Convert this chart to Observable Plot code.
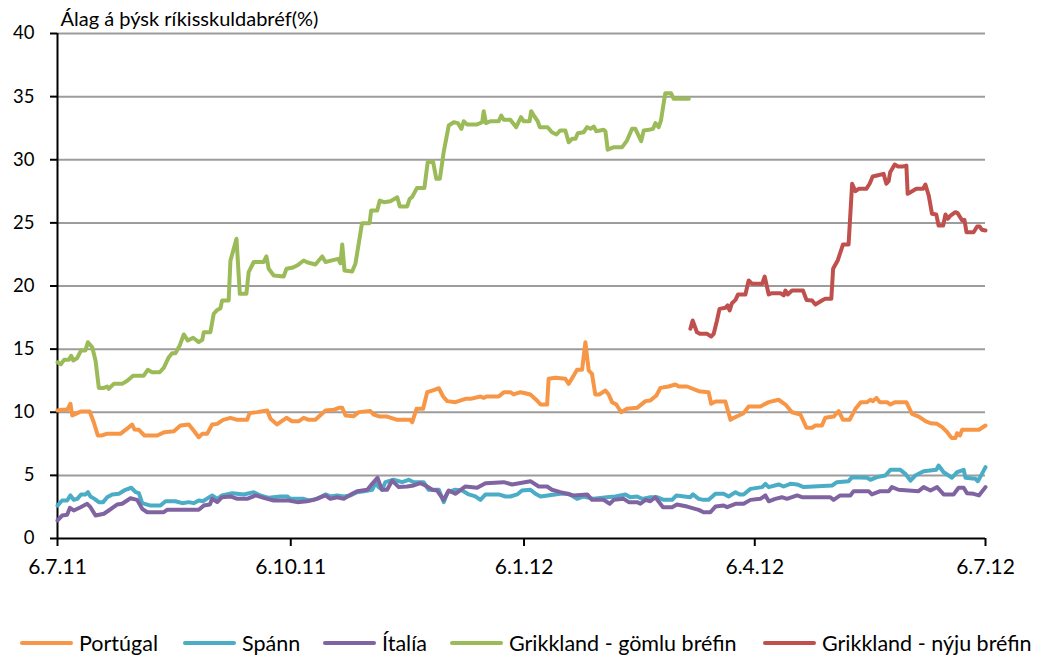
<!DOCTYPE html>
<html>
<head>
<meta charset="utf-8">
<script src="https://cdn.jsdelivr.net/npm/d3@7"></script>
<script src="https://cdn.jsdelivr.net/npm/@observablehq/plot@0.6"></script>
<style>
  html, body { margin: 0; padding: 0; background: #fff; }
  body { position: relative; width: 1041px; height: 658px; overflow: hidden; font-family: Lato, "Open Sans", sans-serif; }
  #legend { position: absolute; top: 629px; left: 0; width: 1041px; height: 28px; font-size: 21.5px; color: #000; }
  .item { position: absolute; top: 0; display: flex; align-items: center; height: 28px; white-space: nowrap; }
  .sw { display: inline-block; width: 53px; height: 4px; margin-right: 6px; border-radius: 2px; }
</style>
</head>
<body>
<div id="chart"></div>
<div id="legend"></div>
<script>
// ---- data (x = days after 6 July 2011, y = spread in %) ----
const startDate = "2011-07-06";
const endDate = "2012-07-06";
const seriesNames = ["Portúgal", "Spánn", "Ítalía", "Grikkland - gömlu bréfin", "Grikkland - nýju bréfin"];
const seriesColors = ["#F79646", "#4BACC6", "#8064A2", "#9BBB59", "#C0504D"];
const titleText = "Álag á þýsk ríkisskuldabréf(%)";
const yTicks = [0, 5, 10, 15, 20, 25, 30, 35, 40];
const xTickDates = ["2011-07-06", "2011-10-06", "2012-01-06", "2012-04-06", "2012-07-06"];
const xTickLabels = ["6.7.11", "6.10.11", "6.1.12", "6.4.12", "6.7.12"];

const portugal = [[0,10.14],[1.2,10.19],[3.8,10.19],[5.1,10.67],[5.8,9.74],[7.8,9.93],[9.1,10.06],[12.7,10.06],[14.3,9.21],[15.9,8.16],[17.6,8.16],[19.3,8.29],[24.8,8.29],[27.7,8.74],[29.4,9.03],[30.4,8.63],[32.1,8.61],[34.3,8.16],[39.3,8.16],[42.2,8.42],[45.9,8.5],[48.5,8.95],[51.8,9.03],[53.7,8.55],[55.7,8.02],[57.1,8.29],[59,8.29],[61,9.03],[63,9.08],[65.3,9.4],[68.2,9.56],[70.9,9.4],[74.8,9.4],[75.8,9.93],[78.7,10.01],[82.7,10.14],[84,9.48],[86.6,9.03],[90.3,9.56],[92.5,9.29],[95.2,9.29],[97.1,9.56],[99.1,9.4],[101.7,9.4],[105.7,10.14],[109,10.19],[110.9,10.35],[112.3,10.35],[113.6,9.74],[116.8,9.69],[118.8,10.01],[123.4,10.09],[124.7,9.82],[127.1,9.66],[130,9.66],[134,9.4],[139.2,9.4],[139.9,9.21],[141.6,10.27],[144.2,10.27],[145.8,11.59],[147.8,11.72],[150.4,11.9],[152.1,11.25],[153.7,10.88],[156.9,10.8],[160.9,11.06],[162.9,11.06],[166.8,11.25],[168.1,11.14],[169.2,11.25],[174,11.25],[176,11.59],[178.6,11.59],[179.9,11.41],[182.6,11.59],[184.5,11.51],[186.5,11.41],[189.1,10.93],[190.5,10.61],[193.1,10.61],[193.7,12.65],[196.4,12.73],[200.3,12.65],[201.6,12.25],[203.6,12.91],[204.9,13.36],[206.9,13.36],[208.2,15.55],[209.5,13.31],[210.8,13.04],[212.1,11.41],[213.8,11.41],[216.1,11.72],[217.4,11.41],[218.7,10.8],[220.4,10.61],[222.3,10.0],[224.6,10.27],[228.6,10.35],[231.9,10.88],[233.8,10.93],[236.2,11.33],[237.8,11.93],[241,12.04],[243.7,12.2],[245,12.04],[248.3,12.04],[252.9,11.67],[256.8,11.59],[257.8,10.67],[259.5,10.85],[263.4,10.85],[265.4,9.4],[266.7,9.56],[268.7,9.74],[270.6,9.93],[272.6,10.46],[277.2,10.46],[280.5,10.8],[284.4,10.99],[287.1,10.61],[289.7,10.0],[293,9.82],[295.4,8.77],[297.6,8.77],[298.9,8.95],[301.5,8.95],[302.8,9.56],[306.1,9.66],[308.1,10.08],[309.8,9.4],[312.4,9.4],[314.7,10.27],[316.9,10.8],[319.3,10.8],[320.6,10.99],[321.6,10.88],[323,11.14],[324.3,10.8],[327.2,10.8],[328.5,10.61],[330.4,10.8],[334.8,10.8],[337,9.87],[339.7,9.66],[342.3,9.29],[344.3,9.13],[346.9,9.08],[348.9,8.82],[350.9,8.42],[352.6,7.97],[354.2,7.97],[354.8,8.34],[355.9,8.16],[356.8,8.61],[363.4,8.61],[366,8.95]];

const spain = [[0,2.61],[1.8,3.01],[3.8,3.01],[5.1,3.41],[6.4,3.06],[7.8,3.14],[9.3,3.49],[11,3.49],[12,3.67],[13,3.33],[14.6,3.14],[16.3,2.88],[18,2.88],[19.6,3.27],[21.6,3.49],[24.2,3.54],[26.8,3.86],[29.1,4.02],[30.8,3.67],[32.1,3.59],[33.4,2.8],[36.7,2.61],[40.6,2.61],[42.6,2.95],[46.5,2.95],[49.2,2.8],[51.8,2.88],[53.7,2.8],[55.7,3.01],[57.4,2.95],[58.8,3.14],[61,3.41],[63,3.14],[64.9,3.41],[68.9,3.59],[73.5,3.49],[77.4,3.67],[80,3.41],[83.3,3.22],[87.9,3.33],[90.6,3.33],[91.9,3.14],[97.1,3.14],[99.1,3.01],[102.4,3.14],[105.7,3.49],[107.6,3.33],[110.3,3.41],[112.9,3.33],[115.5,3.41],[118.2,3.67],[120.8,3.75],[124.1,3.86],[125.4,4.38],[126.7,4.07],[128,3.86],[129.3,4.46],[132.6,4.65],[135.9,4.46],[138.5,4.65],[140.5,4.46],[144.4,4.46],[146.4,3.86],[150.4,3.86],[152.3,2.88],[153.9,3.67],[156.9,3.86],[159.6,3.8],[162.2,3.49],[164.8,3.33],[166.8,3.06],[168.8,3.49],[174,3.49],[176.7,3.33],[178.6,3.33],[181.3,3.49],[183.2,3.8],[186.5,3.86],[188.5,3.54],[190.5,3.33],[198.3,3.54],[201.6,3.54],[204.9,3.14],[207.5,3.33],[211.5,3.14],[216.7,3.27],[220,3.33],[224,3.49],[225.9,3.27],[228.6,3.33],[230.6,3.14],[233.8,3.27],[236.4,3.27],[239.1,3.06],[242.4,3.06],[244.1,3.41],[249.6,3.27],[250.6,3.49],[252.9,3.14],[254.8,3.06],[256.8,3.06],[259.5,3.54],[262.7,3.54],[264.7,3.33],[267.4,3.67],[269.1,3.49],[270.6,3.49],[273.3,3.93],[277.9,4.07],[279.2,4.33],[280.5,4.07],[284.4,4.28],[286.4,4.12],[289,4.33],[291.7,4.28],[294.3,4.07],[305.5,4.2],[307.4,4.46],[312,4.54],[313.4,4.86],[319.3,4.81],[320.6,4.65],[323.2,4.86],[326.5,4.99],[328.5,5.44],[332.4,5.44],[334.4,5.12],[336.4,4.59],[338.3,4.99],[341.6,5.33],[346.6,5.44],[347.5,5.78],[349.5,5.25],[352.8,4.81],[354.8,5.25],[357.4,5.44],[358.1,4.81],[362,4.73],[363,4.54],[364.6,5.12],[366,5.65]];

const italy = [[0,1.43],[1.8,1.82],[3.8,1.88],[4.9,2.43],[6.4,2.22],[9.1,2.48],[11.7,2.75],[13,2.48],[15,1.82],[18.3,1.96],[20.2,2.22],[23.5,2.69],[25.5,2.75],[28.8,3.19],[31.4,3.06],[33.4,2.35],[35.4,2.08],[41.9,2.08],[43.2,2.27],[55.7,2.27],[57.7,2.61],[60.1,2.69],[61,3.14],[63,2.88],[64.9,3.27],[68.2,3.33],[70.9,3.14],[74.8,3.14],[78.1,3.41],[81.3,3.22],[85.3,3.01],[91.2,3.01],[94.5,2.88],[98.4,2.95],[101.1,3.06],[105.7,3.41],[107.6,3.14],[110.3,3.27],[112.9,3.14],[116.2,3.54],[118.2,3.75],[122.2,3.86],[124.1,4.33],[126.2,4.81],[127.1,4.33],[128,3.86],[130,3.86],[132,4.59],[134.6,4.07],[137.9,4.12],[140.5,4.2],[143.1,4.38],[145.1,4.2],[147.8,3.86],[149.7,3.8],[152.3,3.06],[154.3,3.8],[156.9,3.54],[160.9,4.12],[165.5,4.02],[168.8,4.38],[176,4.46],[179.3,4.28],[186.5,4.54],[189.8,4.12],[193.1,4.12],[195,3.86],[198.3,3.67],[200.9,3.54],[203.6,3.41],[208.9,3.49],[210.8,3.06],[215.4,3.06],[217.8,2.75],[219.4,3.06],[223.3,3.14],[225.3,2.88],[228.6,2.88],[229.9,2.75],[231.9,3.06],[233.8,2.95],[235.8,3.27],[238.8,2.48],[242.4,2.48],[244.3,2.69],[248.3,2.53],[252.9,2.27],[254.8,2.08],[257.5,2.08],[259.5,2.53],[262.7,2.61],[264.1,2.48],[267.4,2.75],[270.6,2.75],[273.3,3.06],[277.2,3.14],[279.2,3.41],[280.5,2.95],[283.1,3.14],[285.7,3.27],[287.7,3.14],[291.7,3.41],[293.6,3.27],[304.8,3.27],[306.1,3.06],[308.7,3.41],[312.7,3.41],[314,3.75],[319.9,3.75],[321.2,3.49],[324.5,3.75],[327.8,3.75],[329.1,4.07],[331.7,3.86],[339.6,3.75],[341.6,4.07],[344.3,3.8],[346.9,4.07],[349.5,3.49],[353.4,3.49],[355.4,4.02],[357.4,4.02],[358.7,3.59],[361.3,3.54],[363.4,3.41],[366,4.07]];

const greeceOld = [[0,13.96],[1.3,13.8],[2.6,14.15],[4.5,14.15],[5.4,14.47],[6.2,14.1],[7.8,14.3],[9.3,14.9],[11,14.9],[12,15.55],[13.7,15.15],[15,14.1],[16.3,11.93],[18.3,11.93],[19.6,12.04],[20.2,11.86],[22.2,12.25],[25.5,12.25],[27.5,12.5],[29.8,12.9],[34,12.9],[35.6,13.36],[37.3,13.17],[40.3,13.17],[41.9,13.52],[43.9,14.36],[45.2,14.68],[46.5,14.68],[48.2,15.29],[49.8,16.16],[51.4,15.68],[53.5,15.9],[55.7,15.55],[57.1,15.74],[57.7,16.34],[60.3,16.34],[61.6,17.8],[63,18.1],[64.3,18.24],[64.9,18.85],[67.5,18.85],[68.2,22.0],[70.6,23.74],[71.9,19.38],[74.5,19.38],[75.4,21.1],[77.4,21.9],[81.3,21.9],[82.4,22.34],[83.3,21.36],[85.3,20.83],[89.2,20.75],[90.3,21.36],[92.5,21.44],[94.5,21.62],[97.1,22.02],[98.4,21.88],[101.7,21.7],[104.4,22.34],[105.7,21.9],[109,22.07],[110.7,22.15],[111.6,21.8],[112.3,23.29],[113.2,21.23],[116.2,21.15],[117.5,21.76],[120.1,24.98],[123.1,24.98],[123.7,25.98],[126.1,25.98],[127.1,26.77],[128.7,26.64],[131.3,26.72],[134,27.03],[135,26.3],[137.9,26.3],[138.9,26.9],[139.8,27.03],[141.8,27.77],[144.7,27.77],[146,29.8],[148.1,29.88],[149.4,28.49],[150.8,28.49],[152.3,30.6],[154.3,32.71],[156.3,32.97],[157.9,32.9],[159.3,32.45],[160.2,33.05],[161.5,32.8],[165.5,32.8],[167.5,32.97],[168.1,33.85],[169,32.9],[170.7,33.05],[174,33.05],[175,33.5],[176,33.16],[178.6,33.16],[180.9,32.58],[182.8,33.37],[183.9,33.05],[186.2,33.05],[186.8,33.85],[188.1,33.43],[189.4,33.05],[190.2,32.58],[193.3,32.58],[195,32.18],[196.8,32.0],[198.3,32.32],[200.3,32.32],[201.6,31.39],[203,31.66],[204.3,31.66],[205.2,32.1],[207.5,32.18],[208.9,32.58],[210.2,32.45],[211.5,32.63],[212.5,32.26],[215.4,32.37],[216.1,32.26],[217,30.79],[219.4,31.0],[222.7,31.0],[224.6,31.52],[226.6,32.45],[227.9,32.45],[230.2,31.47],[231.2,32.32],[233.2,32.37],[234.9,32.45],[235.8,32.9],[237.1,32.58],[238,33.11],[239.7,35.27],[242,35.27],[243,34.83],[249,34.83]];

const greeceNew = [[249.6,16.61],[250.5,17.27],[252.2,16.34],[253.5,16.21],[256.2,16.21],[257.8,16.0],[258.8,16.21],[260.1,17.27],[261.1,18.19],[263.4,18.27],[264.3,18.46],[265.1,18.06],[266,18.64],[267.4,18.9],[268.4,19.33],[271.3,19.33],[272.6,20.44],[274,20.17],[277.9,20.17],[278.9,20.75],[280.5,19.33],[281.8,19.43],[285.1,19.43],[286.4,19.25],[287.1,19.64],[288,19.33],[289.7,19.64],[294,19.64],[295.4,18.9],[297.6,18.85],[298.9,18.53],[301.5,18.85],[302.8,19.0],[305.2,19.0],[305.9,21.36],[307.7,22.02],[309,22.81],[309.8,23.29],[312,23.29],[313.4,28.1],[314.7,27.51],[316,27.7],[319,27.7],[320.3,28.1],[321.5,28.67],[323.2,28.75],[325.8,28.88],[326.9,28.1],[327.8,28.3],[328.4,29.01],[330.2,29.62],[331.5,29.47],[333.5,29.47],[334.8,29.54],[335.3,27.3],[336.4,27.43],[338.7,27.7],[341.4,27.7],[342.3,28.04],[343.6,27.17],[344.9,25.72],[346.6,25.66],[347.5,24.79],[349.3,24.79],[350.2,25.66],[351.1,25.32],[352.2,25.58],[354.1,25.85],[355,25.77],[356.8,25.19],[357.7,25.24],[358.5,24.26],[361.3,24.26],[362.7,24.71],[363.7,24.71],[364.6,24.45],[366,24.4]];

const seriesData = [portugal, spain, italy, greeceOld, greeceNew];

// ---- build ----
const t0 = new Date(startDate + "T00:00:00Z");
const t1 = new Date(endDate + "T00:00:00Z");
const toDate = d => new Date(t0.getTime() + d * 864e5);
const tickDates = xTickDates.map(s => new Date(s + "T00:00:00Z"));
const labelFor = new Map(tickDates.map((d, i) => [d.getTime(), xTickLabels[i]]));

const rows = [];
seriesData.forEach((arr, i) => arr.forEach(([d, v]) => rows.push({date: toDate(d), value: v, name: seriesNames[i]})));

const chart = Plot.plot({
  width: 1041,
  height: 600,
  marginLeft: 57,
  marginRight: 56,
  marginTop: 33,
  marginBottom: 62,
  style: {fontFamily: "Lato, 'Open Sans', sans-serif", fontSize: "18px", color: "#000", background: "#fff", overflow: "visible"},
  x: {type: "utc", domain: [t0, t1], label: null},
  y: {domain: [0, 40], label: null},
  color: {domain: seriesNames, range: seriesColors},
  marks: [
    Plot.ruleY(yTicks.filter(v => v > 0), {stroke: "#9c9c9c", strokeWidth: 2}),
    Plot.axisX({ticks: tickDates, tickFormat: d => labelFor.get(d.getTime()), tickSize: 8, tickPadding: 13, stroke: "#000", strokeWidth: 2, fontSize: 21, label: null}),
    Plot.axisY({ticks: yTicks, tickSize: 7, tickPadding: 16, stroke: "#000", strokeWidth: 2, fontSize: 18.5, label: null}),
    Plot.ruleY([0], {stroke: "#000", strokeWidth: 2}),
    Plot.ruleX([t0], {stroke: "#000", strokeWidth: 2}),
    Plot.line(rows, {x: "date", y: "value", z: "name", stroke: "name", strokeWidth: 4, strokeLinejoin: "round", strokeLinecap: "round"}),
    Plot.text([titleText], {frameAnchor: "top-left", text: d => d, dx: 3, dy: -8, lineAnchor: "bottom", textAnchor: "start", fontSize: 20})
  ]
});
document.getElementById("chart").appendChild(chart);

// ---- legend ----
const legendX = [20, 183, 323, 450, 763];
const legend = document.getElementById("legend");
seriesNames.forEach((n, i) => {
  const it = document.createElement("div");
  it.className = "item";
  it.style.left = legendX[i] + "px";
  const sw = document.createElement("span");
  sw.className = "sw";
  sw.style.background = seriesColors[i];
  it.appendChild(sw);
  it.appendChild(document.createTextNode(n));
  legend.appendChild(it);
});
</script>
</body>
</html>
